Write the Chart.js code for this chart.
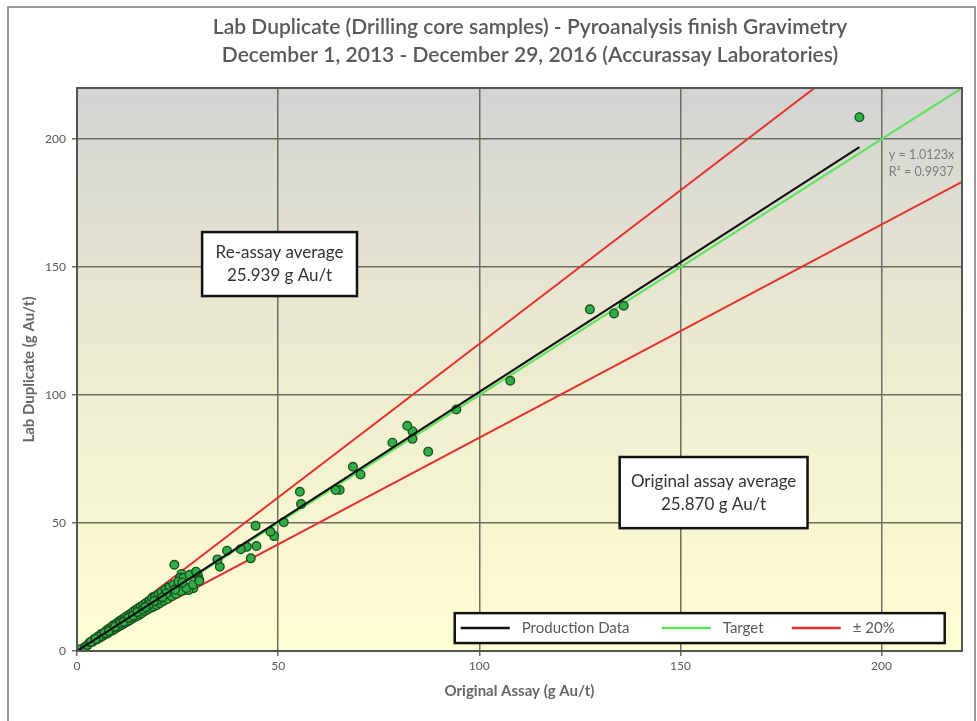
<!DOCTYPE html>
<html>
<head>
<meta charset="utf-8">
<script src="https://cdn.jsdelivr.net/npm/chart.js@4"></script>
<style>
  html, body { margin: 0; padding: 0; background: #ffffff; }
  #wrap { width: 977px; height: 721px; position: relative; }
</style>
</head>
<body>
<div id="wrap"><canvas id="c" width="977" height="721"></canvas></div>
<script>
// Paired assays: original result vs. lab duplicate (g Au/t)
const originalAssay = [
  194.5, 135.9, 133.5, 127.5, 107.7, 94.3, 87.3, 83.4, 83.4, 82.1, 78.4, 70.5, 68.6, 65.3, 64.3,
  55.7, 55.4, 51.4, 49.0, 48.1, 44.6, 44.4, 43.2, 42.2, 40.7, 37.3, 35.5, 34.9, 30.1, 26.0, 24.2,
  25.6, 30.4, 28.9, 26.6, 22.7, 21.4, 18.8, 29.3, 27.7,
  0.2, 1.0, 2.0, 2.6, 3.2, 3.8, 4.3, 4.8, 5.2, 5.6, 6.0, 6.3, 6.7, 7.0, 7.3, 7.6, 8.0, 8.2, 8.5, 8.8,
  9.0, 9.3, 9.6, 9.9, 10.2, 10.4, 10.7, 11.0, 11.2, 11.5, 11.8, 12.0, 12.3, 12.6, 12.9, 13.1, 13.4, 13.7,
  14.0, 14.3, 14.6, 14.9, 15.2, 15.5, 15.8, 16.1, 16.5, 16.8, 17.2, 17.5, 17.9, 18.2, 18.6, 19.0, 19.4,
  19.8, 20.2, 20.6, 21.0, 21.5, 22.0, 22.4, 23.0, 23.5, 24.0, 24.6, 25.2, 25.8, 26.5, 27.2, 28.0, 28.8,
  29.6, 30.4, 5.5, 6.8, 7.9, 9.4, 10.8, 11.6, 12.8, 13.9, 15.0, 16.4, 3.5, 4.6,
  18.0, 20.0, 22.2, 24.4, 26.2, 19.2, 17.0, 21.2
];
const labDuplicate = [
  208.6, 134.9, 131.9, 133.5, 105.6, 94.4, 77.9, 85.9, 82.9, 88.0, 81.4, 69.0, 72.0, 62.9, 62.9,
  57.4, 62.2, 50.3, 44.9, 46.6, 41.0, 48.9, 36.2, 40.7, 39.8, 39.2, 32.9, 35.8, 29.4, 30.1, 33.7,
  28.6, 27.7, 24.5, 23.8, 24.9, 22.5, 21.0, 30.4, 23.8,
  0.3, 0.8, 1.6, 2.3, 3.4, 3.5, 4.7, 4.4, 5.7, 5.1, 6.6, 5.8, 7.0, 6.5, 8.0, 6.9, 8.8, 7.6, 9.2, 8.0,
  10.0, 8.5, 10.5, 9.1, 11.2, 9.6, 11.8, 10.1, 12.3, 10.6, 12.9, 11.1, 13.5, 11.5, 14.1, 12.0, 14.6, 12.6,
  15.4, 13.2, 16.0, 13.6, 16.7, 14.2, 17.3, 14.8, 18.0, 15.5, 18.8, 16.1, 19.5, 16.8, 20.4, 17.3, 21.2,
  17.9, 22.0, 18.7, 22.9, 19.6, 24.0, 20.3, 25.0, 21.4, 26.0, 22.3, 27.2, 23.4, 28.6, 24.6, 29.8, 26.0,
  31.0, 27.4, 5.6, 7.0, 7.8, 9.5, 10.9, 11.4, 13.0, 13.8, 15.2, 16.3, 3.6, 4.7,
  18.3, 19.8, 22.5, 24.0, 26.8, 19.5, 17.2, 21.0
];

const xTicks = [0, 50, 100, 150, 200];
const yTicks = [0, 50, 100, 150, 200];
const axisMax = 220;

const regressionSlope = 1.0123;
const rSquared = 0.9937;
const toleranceFactor = 1.2;   // ±20% envelope

const titleLines = [
  'Lab Duplicate (Drilling core samples) - Pyroanalysis finish Gravimetry',
  'December 1, 2013 - December 29, 2016 (Accurassay Laboratories)'
];
const reassayLines = ['Re-assay average', '25.939 g Au/t'];
const originalLines = ['Original assay average', '25.870 g Au/t'];
const xTitle = 'Original Assay (g Au/t)';
const yTitle = 'Lab Duplicate (g Au/t)';

const FONT = 'Lato, "Open Sans", sans-serif';
const TEXT_GREY = '#595959';

const samples = originalAssay.map((x, i) => ({ x: x, y: labDuplicate[i] }));
const maxOriginal = Math.max(...originalAssay);

const regressionLine = [{ x: 0, y: 0 }, { x: maxOriginal, y: regressionSlope * maxOriginal }];
const targetLine = [{ x: 0, y: 0 }, { x: axisMax, y: axisMax }];
const upperLine = [{ x: 0, y: 0 }, { x: axisMax / toleranceFactor, y: axisMax }];
const lowerLine = [{ x: 0, y: 0 }, { x: axisMax, y: axisMax / toleranceFactor }];

const COLORS = {
  regression: '#111111',
  target: '#5fe35f',
  tolerance: '#e3322f',
  pointFill: '#32ad47',
  pointEdge: '#17531f',
  grid: '#6c6c60',
  frame: '#555555'
};

function textBox(ctx, x0, y0, x1, y1, lines, font, lineGap) {
  ctx.save();
  ctx.fillStyle = '#ffffff';
  ctx.fillRect(x0, y0, x1 - x0, y1 - y0);
  ctx.lineWidth = 2.5;
  ctx.strokeStyle = '#111111';
  ctx.strokeRect(x0, y0, x1 - x0, y1 - y0);
  ctx.fillStyle = '#333333';
  ctx.font = font;
  ctx.textAlign = 'center';
  ctx.textBaseline = 'middle';
  const cx = (x0 + x1) / 2, cy = (y0 + y1) / 2;
  lines.forEach((t, i) => {
    ctx.fillText(t, cx, cy + (i - (lines.length - 1) / 2) * lineGap);
  });
  ctx.restore();
}

const decor = {
  id: 'decor',
  beforeDraw(chart) {
    const { ctx, chartArea: a } = chart;
    ctx.save();
    ctx.fillStyle = '#ffffff';
    ctx.fillRect(0, 0, chart.width, chart.height);
    // outer frame
    ctx.strokeStyle = '#9a9a9a';
    ctx.lineWidth = 2;
    ctx.strokeRect(8, 7, chart.width - 10, chart.height - 5);
    // plot-area fill: grey at top fading to pale yellow
    const g = ctx.createLinearGradient(0, a.top, 0, a.bottom);
    g.addColorStop(0, '#d3d3d3');
    g.addColorStop(0.45, '#ebead0');
    g.addColorStop(1, '#fffed2');
    ctx.fillStyle = g;
    ctx.fillRect(a.left, a.top, a.right - a.left, a.bottom - a.top);
    ctx.restore();
  },
  afterDraw(chart) {
    const { ctx, chartArea: a, scales } = chart;
    const sx = scales.x, sy = scales.y;
    const X = v => sx.getPixelForValue(v), Y = v => sy.getPixelForValue(v);
    ctx.save();
    // plot frame
    ctx.strokeStyle = COLORS.frame;
    ctx.lineWidth = 2;
    ctx.strokeRect(a.left, a.top, a.right - a.left, a.bottom - a.top);

    // title
    ctx.fillStyle = TEXT_GREY;
    ctx.font = '600 21px ' + FONT;
    ctx.textAlign = 'center';
    ctx.textBaseline = 'middle';
    ctx.fillText(titleLines[0], 530, 27);
    ctx.fillText(titleLines[1], 530, 55);

    // regression equation
    ctx.fillStyle = '#7a7a7a';
    ctx.font = '12.5px ' + FONT;
    ctx.textAlign = 'left';
    ctx.fillText('y = ' + regressionSlope.toFixed(4) + 'x', X(201.8), Y(193.7));
    ctx.fillText('R\u00B2 = ' + rSquared.toFixed(4), X(201.8), Y(187.0));

    // averages
    textBox(ctx, X(31.1), Y(163.7), X(69.6), Y(138.7), reassayLines, '17px ' + FONT, 23);
    textBox(ctx, X(134.9), Y(75.8), X(181.6), Y(48.0), originalLines, '17px ' + FONT, 23);

    // legend
    const lx0 = X(93.9), lx1 = X(215.7), ly0 = Y(14.8), ly1 = Y(3.1);
    ctx.fillStyle = '#ffffff';
    ctx.fillRect(lx0, ly0, lx1 - lx0, ly1 - ly0);
    ctx.strokeStyle = '#111111';
    ctx.lineWidth = 2.5;
    ctx.strokeRect(lx0, ly0, lx1 - lx0, ly1 - ly0);
    const ly = (ly0 + ly1) / 2;
    const items = [
      { label: chart.data.datasets[0].label, color: COLORS.regression, x: lx0 + 6 },
      { label: chart.data.datasets[1].label, color: COLORS.target, x: lx0 + 207 },
      { label: chart.data.datasets[2].label, color: COLORS.tolerance, x: lx0 + 337 }
    ];
    ctx.font = '15px ' + FONT;
    ctx.textBaseline = 'middle';
    items.forEach(it => {
      ctx.strokeStyle = it.color;
      ctx.lineWidth = 2.5;
      ctx.beginPath();
      ctx.moveTo(it.x, ly);
      ctx.lineTo(it.x + 49, ly);
      ctx.stroke();
      ctx.fillStyle = TEXT_GREY;
      ctx.textAlign = 'left';
      ctx.fillText(it.label, it.x + 61, ly);
    });
    ctx.restore();
  }
};

const tickFont = { family: FONT, size: 12 };
const titleFont = { family: FONT, size: 15, weight: 'bold' };

new Chart(document.getElementById('c'), {
  type: 'scatter',
  data: {
    datasets: [
      { label: 'Production Data', data: regressionLine, showLine: true, borderColor: COLORS.regression,
        borderWidth: 2.2, pointRadius: 0, order: 0 },
      { label: 'Target', data: targetLine, showLine: true, borderColor: COLORS.target,
        borderWidth: 2.2, pointRadius: 0, order: 2 },
      { label: '\u00B1 20%', data: upperLine, showLine: true, borderColor: COLORS.tolerance,
        borderWidth: 2, pointRadius: 0, order: 3 },
      { label: '\u00B1 20% (lower)', data: lowerLine, showLine: true, borderColor: COLORS.tolerance,
        borderWidth: 2, pointRadius: 0, order: 3 },
      { label: 'Samples', data: samples, pointRadius: 4.3, pointBackgroundColor: COLORS.pointFill,
        pointBorderColor: COLORS.pointEdge, pointBorderWidth: 1.4, order: 1 }
    ]
  },
  options: {
    responsive: false,
    devicePixelRatio: 1,
    animation: false,
    layout: { padding: { top: 88, right: 15, left: 0, bottom: 0 } },
    plugins: { legend: { display: false }, tooltip: { enabled: false }, title: { display: false } },
    scales: {
      x: {
        type: 'linear', min: 0, max: axisMax,
        afterBuildTicks: s => { s.ticks = xTicks.map(v => ({ value: v })); },
        afterFit: s => { s.height = 70; },
        grid: { color: COLORS.grid, lineWidth: 1.5, tickLength: 5, tickColor: COLORS.grid },
        border: { display: false },
        ticks: { font: tickFont, color: TEXT_GREY, padding: 3, maxRotation: 0 },
        title: { display: true, text: xTitle, font: titleFont, color: '#666666', padding: { top: 4, bottom: 21 } }
      },
      y: {
        type: 'linear', min: 0, max: axisMax,
        afterBuildTicks: s => { s.ticks = yTicks.map(v => ({ value: v })); },
        afterFit: s => { s.width = 77; },
        grid: { color: COLORS.grid, lineWidth: 1.5, tickLength: 5, tickColor: COLORS.grid },
        border: { display: false },
        ticks: { font: tickFont, color: TEXT_GREY, padding: 6 },
        title: { display: true, text: yTitle, font: titleFont, color: '#666666', padding: { top: 20, bottom: 4 } }
      }
    }
  },
  plugins: [decor]
});
</script>
</body>
</html>
